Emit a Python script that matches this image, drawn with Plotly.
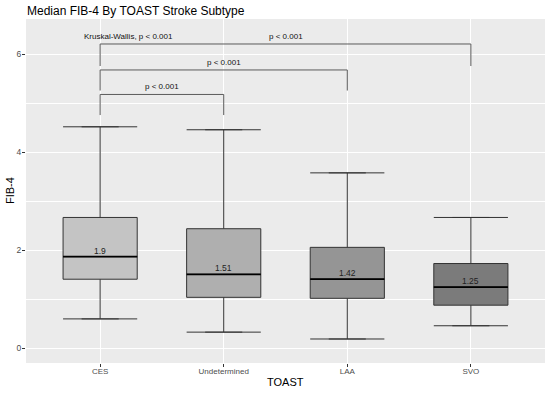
import plotly.graph_objects as go

categories = ["CES", "Undetermined", "LAA", "SVO"]
lower_whisker = [0.60, 0.33, 0.19, 0.46]
q1 = [1.41, 1.04, 1.02, 0.88]
median = [1.87, 1.51, 1.41, 1.25]
q3 = [2.67, 2.44, 2.06, 1.73]
upper_whisker = [4.52, 4.46, 3.58, 2.67]
median_labels = ["1.9", "1.51", "1.42", "1.25"]
fill_colors = ["#c4c4c4", "#afafaf", "#959595", "#7b7b7b"]

# comparisons: (group a index, group b index, bracket y, leg bottom y, label)
comparisons = [
    (0, 1, 5.18, 4.76, "p < 0.001"),
    (0, 2, 5.68, 5.26, "p < 0.001"),
    (0, 3, 6.21, 5.76, "p < 0.001"),
]
kw_label = "Kruskal-Wallis, p < 0.001"
kw_y = 6.36

FONT = "Liberation Sans, Arial, Helvetica, sans-serif"
box_w = 0.6
xs = [i + 1 for i in range(len(categories))]

fig = go.Figure()

for i, cat in enumerate(categories):
    x = xs[i]
    fig.add_trace(go.Box(
        x=[x], q1=[q1[i]], median=[median[i]], q3=[q3[i]],
        lowerfence=[lower_whisker[i]], upperfence=[upper_whisker[i]],
        width=box_w, fillcolor=fill_colors[i],
        line=dict(color="#333333", width=1), name=cat,
        showlegend=False, hoverinfo="skip", boxpoints=False,
    ))
    fig.add_trace(go.Scatter(
        x=[x - box_w / 2, x + box_w / 2, None, x - box_w / 2, x + box_w / 2],
        y=[upper_whisker[i], upper_whisker[i], None, lower_whisker[i], lower_whisker[i]],
        mode="lines", line=dict(color="#333333", width=1),
        showlegend=False, hoverinfo="skip",
    ))
    fig.add_trace(go.Scatter(
        x=[x - box_w / 2, x + box_w / 2], y=[median[i], median[i]],
        mode="lines", line=dict(color="#000000", width=1.8),
        showlegend=False, hoverinfo="skip",
    ))
    fig.add_annotation(
        x=x, y=median[i], text=median_labels[i], showarrow=False,
        yanchor="bottom", yshift=-1, font=dict(family=FONT, size=8.5, color="#222222"),
    )

for a, b, y, leg, label in comparisons:
    xa, xb = xs[a], xs[b]
    fig.add_trace(go.Scatter(
        x=[xa, xa, xb, xb], y=[leg, y, y, leg],
        mode="lines", line=dict(color="#5a5a5a", width=1),
        showlegend=False, hoverinfo="skip",
    ))
    fig.add_annotation(
        x=(xa + xb) / 2, y=y, text=label, showarrow=False,
        yanchor="bottom", yshift=1, font=dict(family=FONT, size=8, color="#111111"),
    )

fig.add_annotation(
    x=0.85, y=kw_y, text=kw_label, showarrow=False, xanchor="left",
    font=dict(family=FONT, size=8, color="#111111"),
)

# axis titles
fig.add_annotation(
    x=0.5, y=0, xref="paper", yref="paper", text="TOAST", showarrow=False,
    yanchor="middle", yshift=-19, font=dict(family=FONT, size=11, color="#000000"),
)
fig.add_annotation(
    x=0, y=0.5, xref="paper", yref="paper", text="FIB-4", showarrow=False,
    textangle=-90, xanchor="center", xshift=-16, font=dict(family=FONT, size=11, color="#000000"),
)

fig.update_layout(
    width=550, height=394,
    margin=dict(l=26, r=5, t=19, b=31),
    paper_bgcolor="white", plot_bgcolor="#EBEBEB",
    title=dict(text="Median FIB-4 By TOAST Stroke Subtype", x=27 / 550, xanchor="left",
               y=1 - 11 / 394, yanchor="middle",
               font=dict(family=FONT, size=12, color="#000000")),
    font=dict(family=FONT),
)
fig.update_xaxes(
    range=[0.4, 4.6], tickvals=xs, ticktext=categories, automargin=False,
    showgrid=True, gridcolor="white", gridwidth=1.1, zeroline=False,
    ticks="outside", ticklen=3, tickcolor="#333333", ticklabelstandoff=-3,
    tickfont=dict(family=FONT, size=8, color="#4D4D4D"),
)
fig.update_yaxes(
    range=[-0.30, 6.72], tickvals=[0, 2, 4, 6], automargin=False,
    showgrid=True, gridcolor="white", gridwidth=1.1, zeroline=False,
    ticks="outside", ticklen=3, tickcolor="#333333", ticklabelstandoff=-1,
    tickfont=dict(family=FONT, size=8.5, color="#4D4D4D"),
    minor=dict(tickvals=[1, 3, 5], showgrid=True, gridcolor="white", gridwidth=0.5, ticks=""),
)

fig.write_html("out.html", config={"displayModeBar": False},
               post_script="document.body.style.margin='0';")
